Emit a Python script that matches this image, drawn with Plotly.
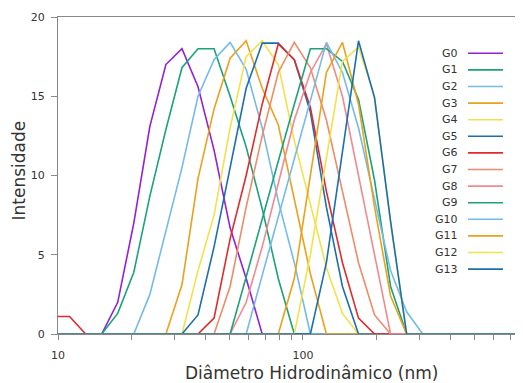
import plotly.graph_objects as go

# Diameter bins (nm)
diam = [9.59, 11.15, 12.97, 15.08, 17.53, 20.39, 23.71, 27.57, 32.06, 37.28, 43.35,
        50.41, 58.62, 68.16, 79.26, 92.16, 107.2, 124.6, 144.9, 168.5, 195.9,
        227.8, 264.9, 308.1, 358.2, 416.5, 484.3, 563.2, 654.9, 761.5, 885.5]

names = ["G0", "G1", "G2", "G3", "G4", "G5", "G6", "G7", "G8", "G9", "G10", "G11", "G12", "G13"]

G0 = [0, 0, 0, 0, 2.0, 7.0, 13.1, 17.0, 18.0, 15.6, 11.6, 6.7, 3.5, 0, 0, 0, 0, 0, 0, 0, 0, 0, 0, 0, 0, 0, 0, 0, 0, 0, 0]
G1 = [0, 0, 0, 0, 1.3, 3.9, 8.7, 12.9, 16.8, 18.0, 18.0, 15.0, 11.8, 7.9, 3.5, 0, 0, 0, 0, 0, 0, 0, 0, 0, 0, 0, 0, 0, 0, 0, 0]
G2 = [0, 0, 0, 0, 0, 0, 2.5, 6.5, 10.5, 15.0, 17.3, 18.4, 16.7, 13.0, 8.4, 4.5, 0, 0, 0, 0, 0, 0, 0, 0, 0, 0, 0, 0, 0, 0, 0]
G3 = [0, 0, 0, 0, 0, 0, 0, 0, 3.1, 9.8, 14.2, 17.4, 18.5, 15.5, 13.2, 8.5, 3.8, 0, 0, 0, 0, 0, 0, 0, 0, 0, 0, 0, 0, 0, 0]
G4 = [0, 0, 0, 0, 0, 0, 0, 0, 0, 4.0, 7.5, 13.0, 17.5, 18.5, 17.0, 12.2, 8.2, 4.2, 1.3, 0, 0, 0, 0, 0, 0, 0, 0, 0, 0, 0, 0]
G5 = [0, 0, 0, 0, 0, 0, 0, 0, 0, 1.2, 5.5, 10.5, 15.5, 18.35, 18.35, 17.3, 14.0, 8.0, 3.0, 0, 0, 0, 0, 0, 0, 0, 0, 0, 0, 0, 0]
G6 = [1.1, 1.1, 0, 0, 0, 0, 0, 0, 0, 0, 1.0, 6.0, 10.0, 14.5, 18.3, 17.3, 14.3, 9.0, 4.5, 1.0, 0, 0, 0, 0, 0, 0, 0, 0, 0, 0, 0]
G7 = [0, 0, 0, 0, 0, 0, 0, 0, 0, 0, 0, 3.0, 8.0, 12.5, 16.5, 18.4, 16.8, 13.5, 9.0, 4.5, 1.2, 0, 0, 0, 0, 0, 0, 0, 0, 0, 0]
G8 = [0, 0, 0, 0, 0, 0, 0, 0, 0, 0, 0, 0, 2.0, 5.5, 9.5, 13.5, 16.5, 18.3, 15.0, 10.0, 5.0, 0, 0, 0, 0, 0, 0, 0, 0, 0, 0]
G9 = [0, 0, 0, 0, 0, 0, 0, 0, 0, 0, 0, 0, 3.6, 7.3, 10.9, 14.5, 18.0, 18.0, 17.2, 14.8, 9.7, 3.0, 0, 0, 0, 0, 0, 0, 0, 0, 0]
G10 = [0, 0, 0, 0, 0, 0, 0, 0, 0, 0, 0, 0, 0, 3.7, 7.4, 11.0, 14.7, 18.4, 16.5, 13.0, 8.5, 4.0, 1.4, 0, 0, 0, 0, 0, 0, 0, 0]
G11 = [0, 0, 0, 0, 0, 0, 0, 0, 0, 0, 0, 0, 0, 0, 0, 3.5, 10.0, 16.5, 18.4, 14.5, 8.0, 2.4, 0, 0, 0, 0, 0, 0, 0, 0, 0]
G12 = [0, 0, 0, 0, 0, 0, 0, 0, 0, 0, 0, 0, 0, 0, 0, 0, 5.0, 11.0, 17.2, 18.1, 15.0, 7.0, 0, 0, 0, 0, 0, 0, 0, 0, 0]
G13 = [0, 0, 0, 0, 0, 0, 0, 0, 0, 0, 0, 0, 0, 0, 0, 0, 0, 4.5, 11.5, 18.5, 14.9, 7.1, 0, 0, 0, 0, 0, 0, 0, 0, 0]

series = [G0, G1, G2, G3, G4, G5, G6, G7, G8, G9, G10, G11, G12, G13]
colors = ["#9120D8", "#1BA27A", "#76BAE6", "#E9A11E", "#F1E24C", "#1C6FAE", "#E12A2C",
          "#EE8B6A", "#F08A90", "#1BA27A", "#76BAE6", "#E9A11E", "#F1E24C", "#1C6FAE"]

xtickvals = [10, 20, 30, 40, 50, 60, 70, 80, 90, 100, 200, 300, 400, 500, 600, 700, 800]
xticktext = ["10", "", "", "", "", "", "", "", "", "100", "", "", "", "", "", "", ""]

x_title = "Diâmetro Hidrodinâmico (nm)"
y_title = "Intensidade"

FONT = "DejaVu Sans"
OFF = 8  # default page body margin
W, H = 523 - OFF, 383 - OFF
L, R, T, B = 58 - OFF, 0, 17 - OFF, 49
pw = W - L - R
ph = H - T - B


def px(xpage):
    return (xpage - OFF - L) / pw


def py(ypage):
    return (H - B - (ypage - OFF)) / ph


fig = go.Figure()
for name, ys, col in zip(names, series, colors):
    fig.add_trace(go.Scatter(x=diam, y=ys, mode="lines", name=name,
                             line=dict(color=col, width=1.6), showlegend=False))

# Manual legend (text left of the line sample)
for i, (name, col) in enumerate(zip(names, colors)):
    yp = py(53.3 + 16.6 * i)
    fig.add_annotation(xref="paper", yref="paper", x=px(460), y=yp, text=name,
                       showarrow=False, xanchor="right", yanchor="middle",
                       font=dict(family=FONT, size=11, color="#333333"))
    fig.add_shape(type="line", xref="paper", yref="paper",
                  x0=px(468), x1=px(503), y0=yp, y1=yp,
                  line=dict(color=col, width=1.6))

# Axis titles
fig.add_annotation(xref="paper", yref="paper", x=px(311), y=py(373), text=x_title,
                   showarrow=False, xanchor="center", yanchor="middle",
                   font=dict(family=FONT, size=17, color="#333333"))
fig.add_annotation(xref="paper", yref="paper", x=px(18.5), y=py(171), text=y_title,
                   textangle=-90, showarrow=False, xanchor="center", yanchor="middle",
                   font=dict(family=FONT, size=17, color="#333333"))

fig.update_layout(
    width=W, height=H,
    margin=dict(l=L, r=R, t=T, b=B, pad=0, autoexpand=False),
    plot_bgcolor="white", paper_bgcolor="white",
    font=dict(family=FONT, size=11, color="#333333"),
    xaxis=dict(type="log", range=[1, 2.898], tickvals=xtickvals, ticktext=xticktext,
               ticks="outside", ticklen=5, tickcolor="#888888", tickwidth=1,
               showline=True, linecolor="#888888", linewidth=1.2, mirror=True,
               showgrid=False, zeroline=False, ticklabelstandoff=6, automargin=False,
               tickfont=dict(family=FONT, size=11, color="#333333")),
    yaxis=dict(range=[0, 20], tickvals=[0, 5, 10, 15, 20],
               ticks="outside", ticklen=6, tickcolor="#888888", tickwidth=1,
               showline=True, linecolor="#888888", linewidth=1.2,
               showgrid=False, zeroline=False, ticklabelstandoff=4, automargin=False,
               tickfont=dict(family=FONT, size=11, color="#333333")),
)

fig.write_html("out.html")
